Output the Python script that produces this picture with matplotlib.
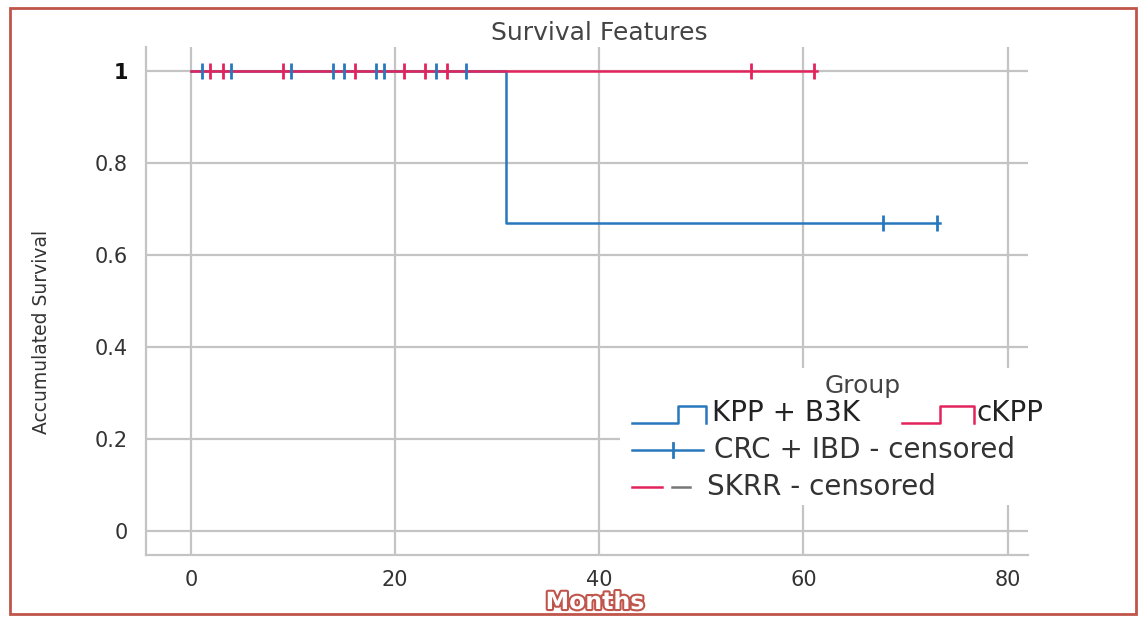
import matplotlib
matplotlib.use("Agg")
import matplotlib.pyplot as plt
import matplotlib.patheffects as pe
from matplotlib.patches import Rectangle
from matplotlib.lines import Line2D

# ---- data ----
blue_times = [0, 30.9, 73.4]
blue_surv = [1.0, 0.67, 0.67]
blue_censor_t = [1.1, 3.9, 9.8, 13.9, 15.0, 18.1, 18.9, 24.0, 26.9, 67.8, 73.1]
blue_censor_s = [1, 1, 1, 1, 1, 1, 1, 1, 1, 0.67, 0.67]

red_times = [0, 61.3]
red_surv = [1.0, 1.0]
red_censor_t = [1.9, 3.1, 9.0, 16.1, 20.9, 22.9, 25.1, 54.9, 61.0]
red_censor_s = [1] * 9

xticks = [0, 20, 40, 60, 80]
yticks = [0, 0.2, 0.4, 0.6, 0.8, 1]
ytick_labels = ["0", "0.2", "0.4", "0.6", "0.8", "1"]

BLUE = "#2878bd"
RED = "#e2245c"
GRID = "#c4c4c4"
BORDER = "#c0554b"

fig = plt.figure(figsize=(11.38, 6.17), dpi=100)
ax = fig.add_axes([146/1138, 62/617, (1028-146)/1138, (555-47)/617])

ax.step(blue_times, blue_surv, where="post", color=BLUE, lw=1.8, zorder=3)
ax.step(red_times, red_surv, where="post", color=RED, lw=1.8, zorder=4)
ax.plot(blue_censor_t, blue_censor_s, ls="none", marker="|", ms=11, mew=2, color=BLUE, zorder=6)
ax.plot(red_censor_t, red_censor_s, ls="none", marker="|", ms=11, mew=2, color=RED, zorder=5)

ax.set_xlim(-4.4, 82.0)
ax.set_ylim(-0.052, 1.052)
ax.set_xticks(xticks)
ax.set_yticks(yticks)
ax.set_yticklabels(ytick_labels)
ax.grid(True, color=GRID, lw=1.6, zorder=0)
ax.set_axisbelow(True)
for s in ["top", "right"]:
    ax.spines[s].set_visible(False)
for s in ["left", "bottom"]:
    ax.spines[s].set_color(GRID)
    ax.spines[s].set_linewidth(1.6)
ax.tick_params(axis="both", length=0, labelsize=15, labelcolor="#333333")
ax.tick_params(axis="y", pad=13)
ax.tick_params(axis="x", pad=11)
for lab in ax.get_yticklabels():
    if lab.get_text() == "1":
        lab.set_fontweight("bold")
        lab.set_color("#111111")

fig.text(599/1138, 1 - 33/617, "Survival Features", ha="center", va="center",
         fontsize=18, color="#444444")
fig.text(42/1138, 1 - 332/617, "Accumulated Survival", ha="center", va="center", rotation=90,
         fontsize=13.5, color="#333333")
fig.text(595/1138, 1 - 602/617, "Months", ha="center", va="center", fontsize=17, fontweight="bold",
         color="white", path_effects=[pe.withStroke(linewidth=3, foreground=BORDER)])

# legend (manual)
def fx(px):
    return px / 1138
def fy(py):
    return 1 - py / 617

fig.patches.append(Rectangle((fx(620), fy(505)), fx(1062) - fx(620), fy(368) - fy(505),
                             transform=fig.transFigure, facecolor="white", edgecolor="none", zorder=10))
lk = dict(transform=fig.transFigure, zorder=11)
LFS = 20
fig.text(fx(863), fy(386), "Group", ha="center", va="center", fontsize=18, color="#444444", zorder=11)
y1 = 413
fig.lines.append(Line2D([fx(632), fx(678), fx(678), fx(706), fx(706)],
                        [fy(423), fy(423), fy(406), fy(406), fy(423)], color=BLUE, lw=1.8, **lk))
fig.text(fx(712), fy(y1), "KPP + B3K", ha="left", va="center", fontsize=LFS, color="#222222", zorder=11)
fig.lines.append(Line2D([fx(902), fx(940), fx(940), fx(974), fx(974)],
                        [fy(423), fy(423), fy(406), fy(406), fy(423)], color=RED, lw=1.8, **lk))
fig.text(fx(977), fy(y1), "cKPP", ha="left", va="center", fontsize=LFS, color="#222222", zorder=11)
fig.lines.append(Line2D([fx(632), fx(703)], [fy(450), fy(450)], color=BLUE, lw=1.8, **lk))
fig.lines.append(Line2D([fx(673), fx(673)], [fy(443), fy(457)], color=BLUE, lw=2, **lk))
fig.text(fx(714), fy(450), "CRC + IBD - censored", ha="left", va="center", fontsize=LFS, color="#333333", zorder=11)
fig.lines.append(Line2D([fx(632), fx(662)], [fy(487), fy(487)], color=RED, lw=1.8, **lk))
fig.lines.append(Line2D([fx(672), fx(690)], [fy(487), fy(487)], color="#777777", lw=1.8, **lk))
fig.text(fx(707), fy(487), "SKRR - censored", ha="left", va="center", fontsize=LFS, color="#333333", zorder=11)

# border
fig.patches.append(Rectangle((fx(10), fy(614)), fx(1136) - fx(10), fy(8) - fy(614),
                             transform=fig.transFigure, facecolor="none", edgecolor=BORDER, lw=2, zorder=20))

fig.savefig("out.png", dpi=100)
